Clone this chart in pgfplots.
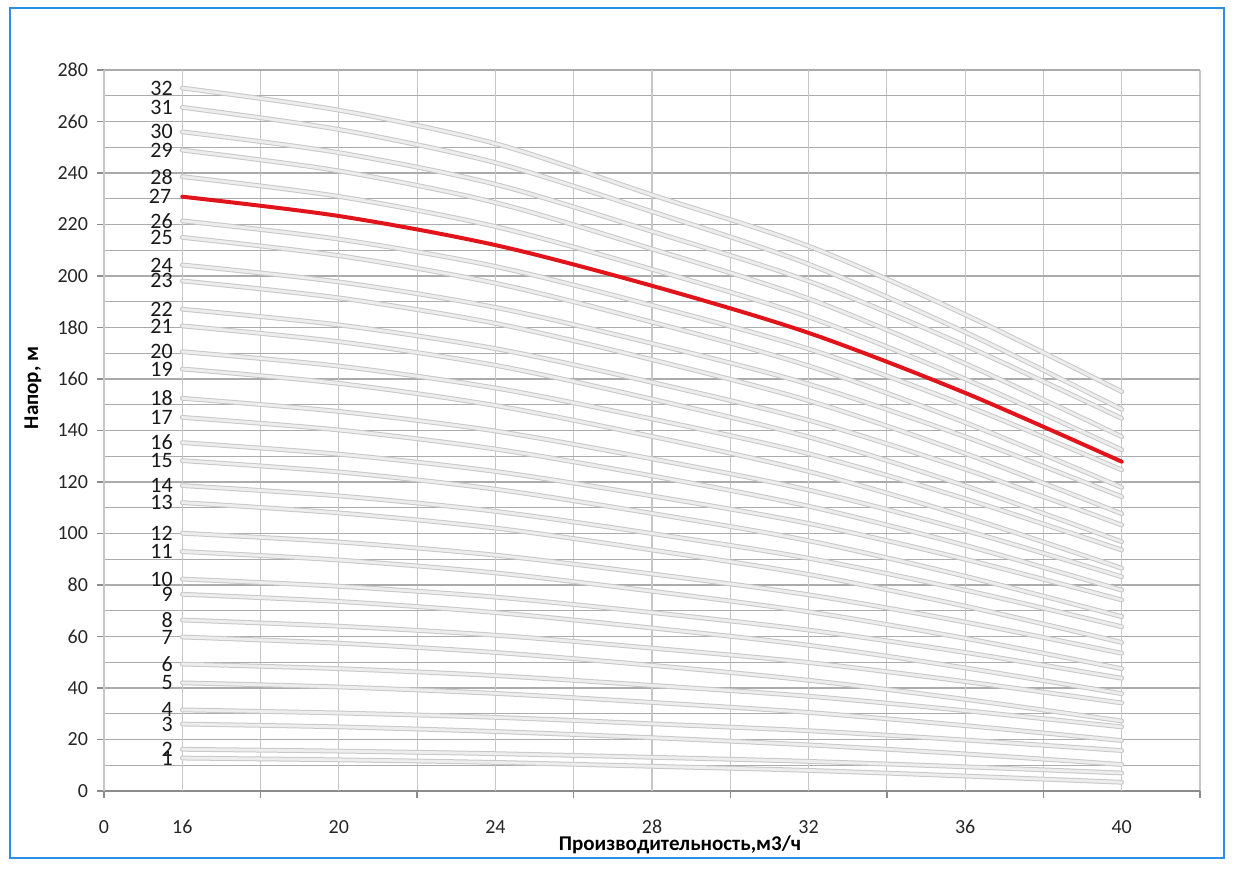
\documentclass[border=0pt]{standalone}
\usepackage{pgfplots}
\pgfplotsset{compat=1.18}
\usepackage{fontspec}
\setmainfont{Carlito}
\definecolor{gridh}{HTML}{ABABAB}
\definecolor{gridv}{HTML}{C6C6C6}
\definecolor{axc}{HTML}{8C8C8C}
\definecolor{redc}{HTML}{E0141A}
\definecolor{framec}{HTML}{2B8FE3}
\definecolor{cedge}{HTML}{C8C8C8}
\definecolor{cfill}{HTML}{EDEDED}
\tikzset{
  gc/.style={draw=cedge, double=cfill, double distance=1.4pt, line width=0.5pt},
  lab/.style={anchor=east, inner sep=0pt, xshift=-4.5pt, font=\fontsize{11}{12}\selectfont, text=black!90},
}
\begin{document}
\begin{tikzpicture}
\useasboundingbox (0,0) rectangle (617pt,434.5pt);
\draw[framec, line width=1pt] (5pt,5.5pt) rectangle (612pt,430.5pt);
\begin{axis}[
  at={(52pt,39pt)}, anchor=south west, scale only axis,
  width=548pt, height=360.5pt,
  xmin=14, xmax=42, ymin=0, ymax=280,
  axis x line*=bottom, axis y line*=left,
  axis line style={axc, line width=0.7pt},
  xtick={14,18,...,42},
  xticklabels={},
  extra x ticks={14,16,20,24,28,32,36,40},
  extra x tick labels={0,16,20,24,28,32,36,40},
  extra x tick style={major tick length=0pt, grid=major},
  ytick={0,20,...,280},
  minor y tick num=1,
  minor tick length=0pt,
  major tick length=3.5pt,
  tick align=outside,
  tick style={axc, line width=0.7pt},
  xmajorgrids, ymajorgrids, yminorgrids,
  major grid style={gridh, line width=0.6pt},
  minor grid style={gridh, line width=0.6pt},
  x grid style={gridv, line width=0.6pt},
  /pgf/number format/assume math mode=true,
  ticklabel style={font=\fontsize{10}{12}\selectfont, text=black!85},
  xticklabel shift=11pt,
  yticklabel shift=1pt,
  xlabel={Производительность,м3/ч},
  ylabel={Напор, м},
  xlabel style={font=\fontsize{10.5}{12}\selectfont\bfseries, at={(rel axis cs:0.5255,-0.0749)}, anchor=center},
  ylabel style={font=\fontsize{10.5}{12}\selectfont\bfseries, at={(rel axis cs:-0.0648,0.559)}, anchor=center},
  clip=false,
  every axis plot/.append style={smooth, line cap=round},
]
\addplot[gc] coordinates {(16,12.8) (20,12.1) (24,11.1) (28,9.6) (32,8.0) (36,5.8) (40,3.4)} node[pos=0,lab]{1};
\addplot[gc] coordinates {(16,16.2) (20,15.5) (24,14.5) (28,13.1) (32,11.5) (36,9.4) (40,7.0)} node[pos=0,lab]{2};
\addplot[gc] coordinates {(16,26.0) (20,24.9) (24,23.1) (28,20.7) (32,17.9) (36,14.4) (40,10.3)} node[pos=0,lab]{3};
\addplot[gc] coordinates {(16,31.5) (20,30.3) (24,28.6) (28,26.1) (32,23.4) (36,19.8) (40,15.7)} node[pos=0,lab]{4};
\addplot[gc] coordinates {(16,42.0) (20,40.4) (24,37.9) (28,34.4) (32,30.5) (36,25.4) (40,19.6)} node[pos=0,lab]{5};
\addplot[gc] coordinates {(16,49.3) (20,47.5) (24,44.8) (28,41.0) (32,36.8) (36,31.2) (40,24.9)} node[pos=0,lab]{6};
\addplot[gc] coordinates {(16,59.8) (20,57.4) (24,53.8) (28,48.8) (32,43.0) (36,35.6) (40,27.2)} node[pos=0,lab]{7};
\addplot[gc] coordinates {(16,66.4) (20,64.0) (24,60.5) (28,55.5) (32,49.9) (36,42.5) (40,34.2)} node[pos=0,lab]{8};
\addplot[gc] coordinates {(16,76.4) (20,73.6) (24,69.3) (28,63.3) (32,56.6) (36,47.8) (40,37.8)} node[pos=0,lab]{9};
\addplot[gc] coordinates {(16,82.3) (20,79.5) (24,75.3) (28,69.3) (32,62.5) (36,53.8) (40,43.8)} node[pos=0,lab]{10};
\addplot[gc] coordinates {(16,93.0) (20,89.7) (24,84.7) (28,77.6) (32,69.6) (36,59.3) (40,47.5)} node[pos=0,lab]{11};
\addplot[gc] coordinates {(16,100.1) (20,96.7) (24,91.6) (28,84.3) (32,76.2) (36,65.6) (40,53.5)} node[pos=0,lab]{12};
\addplot[gc] coordinates {(16,112.0) (20,108.0) (24,102.1) (28,93.6) (32,84.1) (36,71.8) (40,57.7)} node[pos=0,lab]{13};
\addplot[gc] coordinates {(16,118.6) (20,114.6) (24,108.6) (28,100.0) (32,90.4) (36,78.0) (40,63.8)} node[pos=0,lab]{14};
\addplot[gc] coordinates {(16,128.3) (20,123.9) (24,117.2) (28,107.8) (32,97.2) (36,83.4) (40,67.7)} node[pos=0,lab]{15};
\addplot[gc] coordinates {(16,135.3) (20,130.8) (24,124.1) (28,114.6) (32,103.9) (36,90.0) (40,74.2)} node[pos=0,lab]{16};
\addplot[gc] coordinates {(16,145.1) (20,140.2) (24,132.8) (28,122.4) (32,110.6) (36,95.4) (40,78.0)} node[pos=0,lab]{17};
\addplot[gc] coordinates {(16,152.5) (20,147.4) (24,139.8) (28,129.0) (32,116.9) (36,101.2) (40,83.2)} node[pos=0,lab]{18};
\addplot[gc] coordinates {(16,163.9) (20,158.3) (24,149.7) (28,137.7) (32,124.1) (36,106.6) (40,86.5)} node[pos=0,lab]{19};
\addplot[gc] coordinates {(16,170.6) (20,165.0) (24,156.5) (28,144.5) (32,131.0) (36,113.5) (40,93.6)} node[pos=0,lab]{20};
\addplot[gc] coordinates {(16,180.6) (20,174.5) (24,165.3) (28,152.2) (32,137.5) (36,118.5) (40,96.8)} node[pos=0,lab]{21};
\addplot[gc] coordinates {(16,187.1) (20,181.0) (24,171.8) (28,158.7) (32,144.0) (36,125.0) (40,103.3)} node[pos=0,lab]{22};
\addplot[gc] coordinates {(16,198.1) (20,191.5) (24,181.6) (28,167.5) (32,151.6) (36,131.1) (40,107.7)} node[pos=0,lab]{23};
\addplot[gc] coordinates {(16,204.3) (20,197.7) (24,187.8) (28,173.8) (32,158.0) (36,137.6) (40,114.3)} node[pos=0,lab]{24};
\addplot[gc] coordinates {(16,215.0) (20,207.9) (24,197.2) (28,182.1) (32,165.1) (36,143.1) (40,117.9)} node[pos=0,lab]{25};
\addplot[gc] coordinates {(16,221.4) (20,214.3) (24,203.7) (28,188.6) (32,171.7) (36,149.8) (40,124.7)} node[pos=0,lab]{26};
\addplot[gc] coordinates {(16,238.6) (20,230.9) (24,219.2) (28,202.6) (32,184.1) (36,160.0) (40,132.5)} node[pos=0,lab]{28};
\addplot[gc] coordinates {(16,248.9) (20,240.8) (24,228.5) (28,210.5) (32,191.2) (36,166.0) (40,137.6)} node[pos=0,lab]{29};
\addplot[gc] coordinates {(16,256.0) (20,247.9) (24,235.6) (28,217.3) (32,198.0) (36,173.0) (40,144.7)} node[pos=0,lab]{30};
\addplot[gc] coordinates {(16,265.5) (20,256.9) (24,244.0) (28,225.0) (32,204.6) (36,178.2) (40,148.2)} node[pos=0,lab]{31};
\addplot[gc] coordinates {(16,273.0) (20,264.4) (24,251.4) (28,231.5) (32,211.6) (36,185.0) (40,155.1)} node[pos=0,lab]{32};
\addplot[draw=redc, line width=2pt] coordinates {(16,230.8) (20,223.3) (24,212.0) (28,196.2) (32,177.9) (36,154.6) (40,127.9)} node[pos=0,lab]{27};
\end{axis}
\end{tikzpicture}
\end{document}
